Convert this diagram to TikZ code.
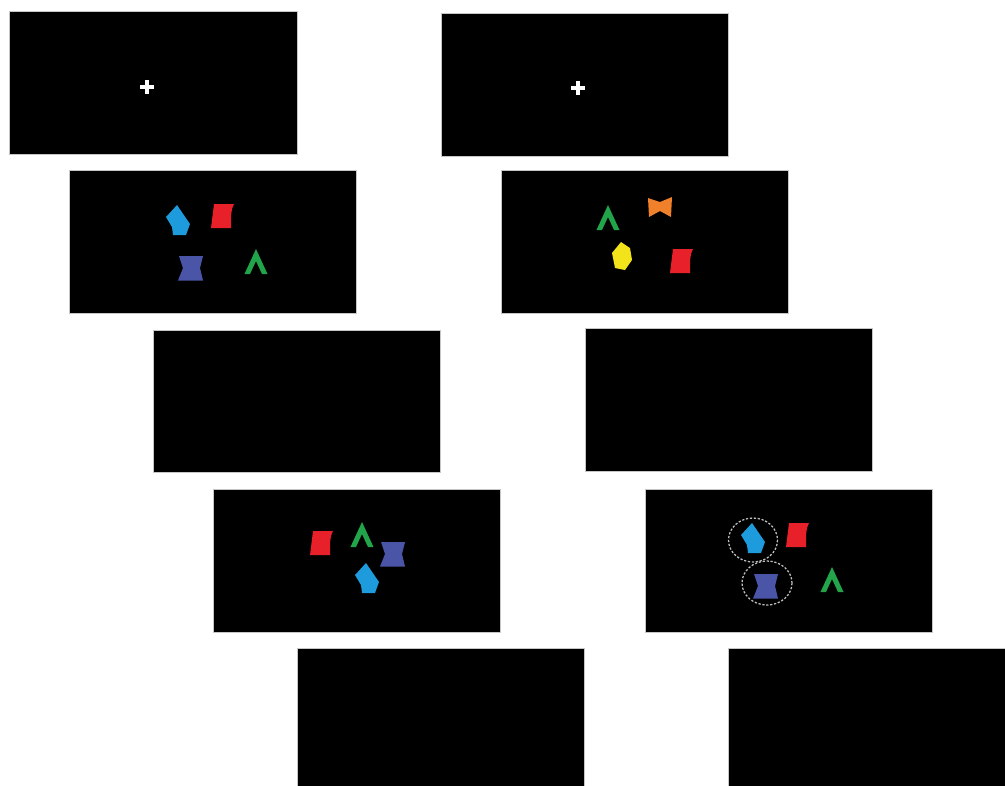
\documentclass[tikz,border=0pt]{standalone}
\begin{document}
\begin{tikzpicture}[x=0.025cm,y=-0.025cm]
		\definecolor{shcyan}{HTML}{1E9BDC}
		\definecolor{shred}{HTML}{E8202A}
		\definecolor{shslate}{HTML}{4B55A8}
		\definecolor{shgreen}{HTML}{22A54A}
		\definecolor{shorange}{HTML}{F0802A}
		\definecolor{shyellow}{HTML}{F2E31A}
		\tikzset{panel/.style={fill=black,draw=gray!45,line width=0.5pt},
			fixcross/.style={white,line width=2.3pt},
			probe/.style={gray!50,dashed,dash pattern=on 1.6pt off 1.2pt,line width=0.9pt},
			penta/.pic={\fill[shcyan] (-1,-15) -- (12,4) -- (8,15) -- (-5,15) -- (-6,7) -- (-12,-3) -- cycle;},
			flag/.pic={\fill[shred] (-8,-12) -- (12,-12) .. controls (9,-6) and (9,-3) .. (9,12) -- (-11,12) -- cycle;},
			hourglass/.pic={\fill[shslate] (-12,-12) -- (12,-12) -- (9,0) -- (12,12.5) -- (-13,12.5) -- (-8,0) -- cycle;},
			bowtie/.pic={\fill[shorange] (-12,-9) -- (0,-5) -- (12,-10) -- (11,10) -- (0,4) -- (-11,10) -- cycle;},
			hexa/.pic={\fill[shyellow] (-1,-14) -- (8,-8) -- (10,4) -- (3,14) -- (-7,12) -- (-10,-3) -- cycle;},
			chevron/.pic={\fill[shgreen] (0,-13) -- (11.5,12) -- (6,12) -- (0,-1) -- (-6,12) -- (-11.5,12) -- cycle;}};
		\useasboundingbox (0,0) rectangle (1005,785);
		
		% left sequence
		\draw[panel] (9,11) rectangle (297,154);
		\draw[panel] (69,170) rectangle (356,313);
		\draw[panel] (153,330) rectangle (440,472);
		\draw[panel] (213,489) rectangle (500,632);
		\draw[panel] (297,648) rectangle (584,800);
		
		% right sequence
		\draw[panel] (441,13) rectangle (728,156);
		\draw[panel] (501,170) rectangle (788,313);
		\draw[panel] (585,328) rectangle (872,471);
		\draw[panel] (645,489) rectangle (932,632);
		\draw[panel] (728,648) rectangle (1010,800);
		
		% fixation
		\draw[fixcross] (140,87) -- (154,87) (147,80) -- (147,94);
		\draw[fixcross] (571,88) -- (585,88) (578,81) -- (578,95);
		
		% memory displays
		\pic at (178,220) {penta};
		\pic at (222,216) {flag};
		\pic at (191,268) {hourglass};
		\pic at (256,262) {chevron};
		
		\pic at (608,218) {chevron};
		\pic at (660,207) {bowtie};
		\pic at (622,256) {hexa};
		\pic at (681,261) {flag};
		
		% test displays
		\pic at (321,543) {flag};
		\pic at (362,535) {chevron};
		\pic at (393,554) {hourglass};
		\pic at (367,578) {penta};
		
		\pic at (753,538) {penta};
		\pic at (766,586) {hourglass};
		\pic at (797,535) {flag};
		\pic at (832,580) {chevron};
		\draw[probe] (753,540) ellipse [x radius=24.5,y radius=22];
		\draw[probe] (767,583) ellipse [x radius=25,y radius=22];
		
	\end{tikzpicture}
\end{document}
